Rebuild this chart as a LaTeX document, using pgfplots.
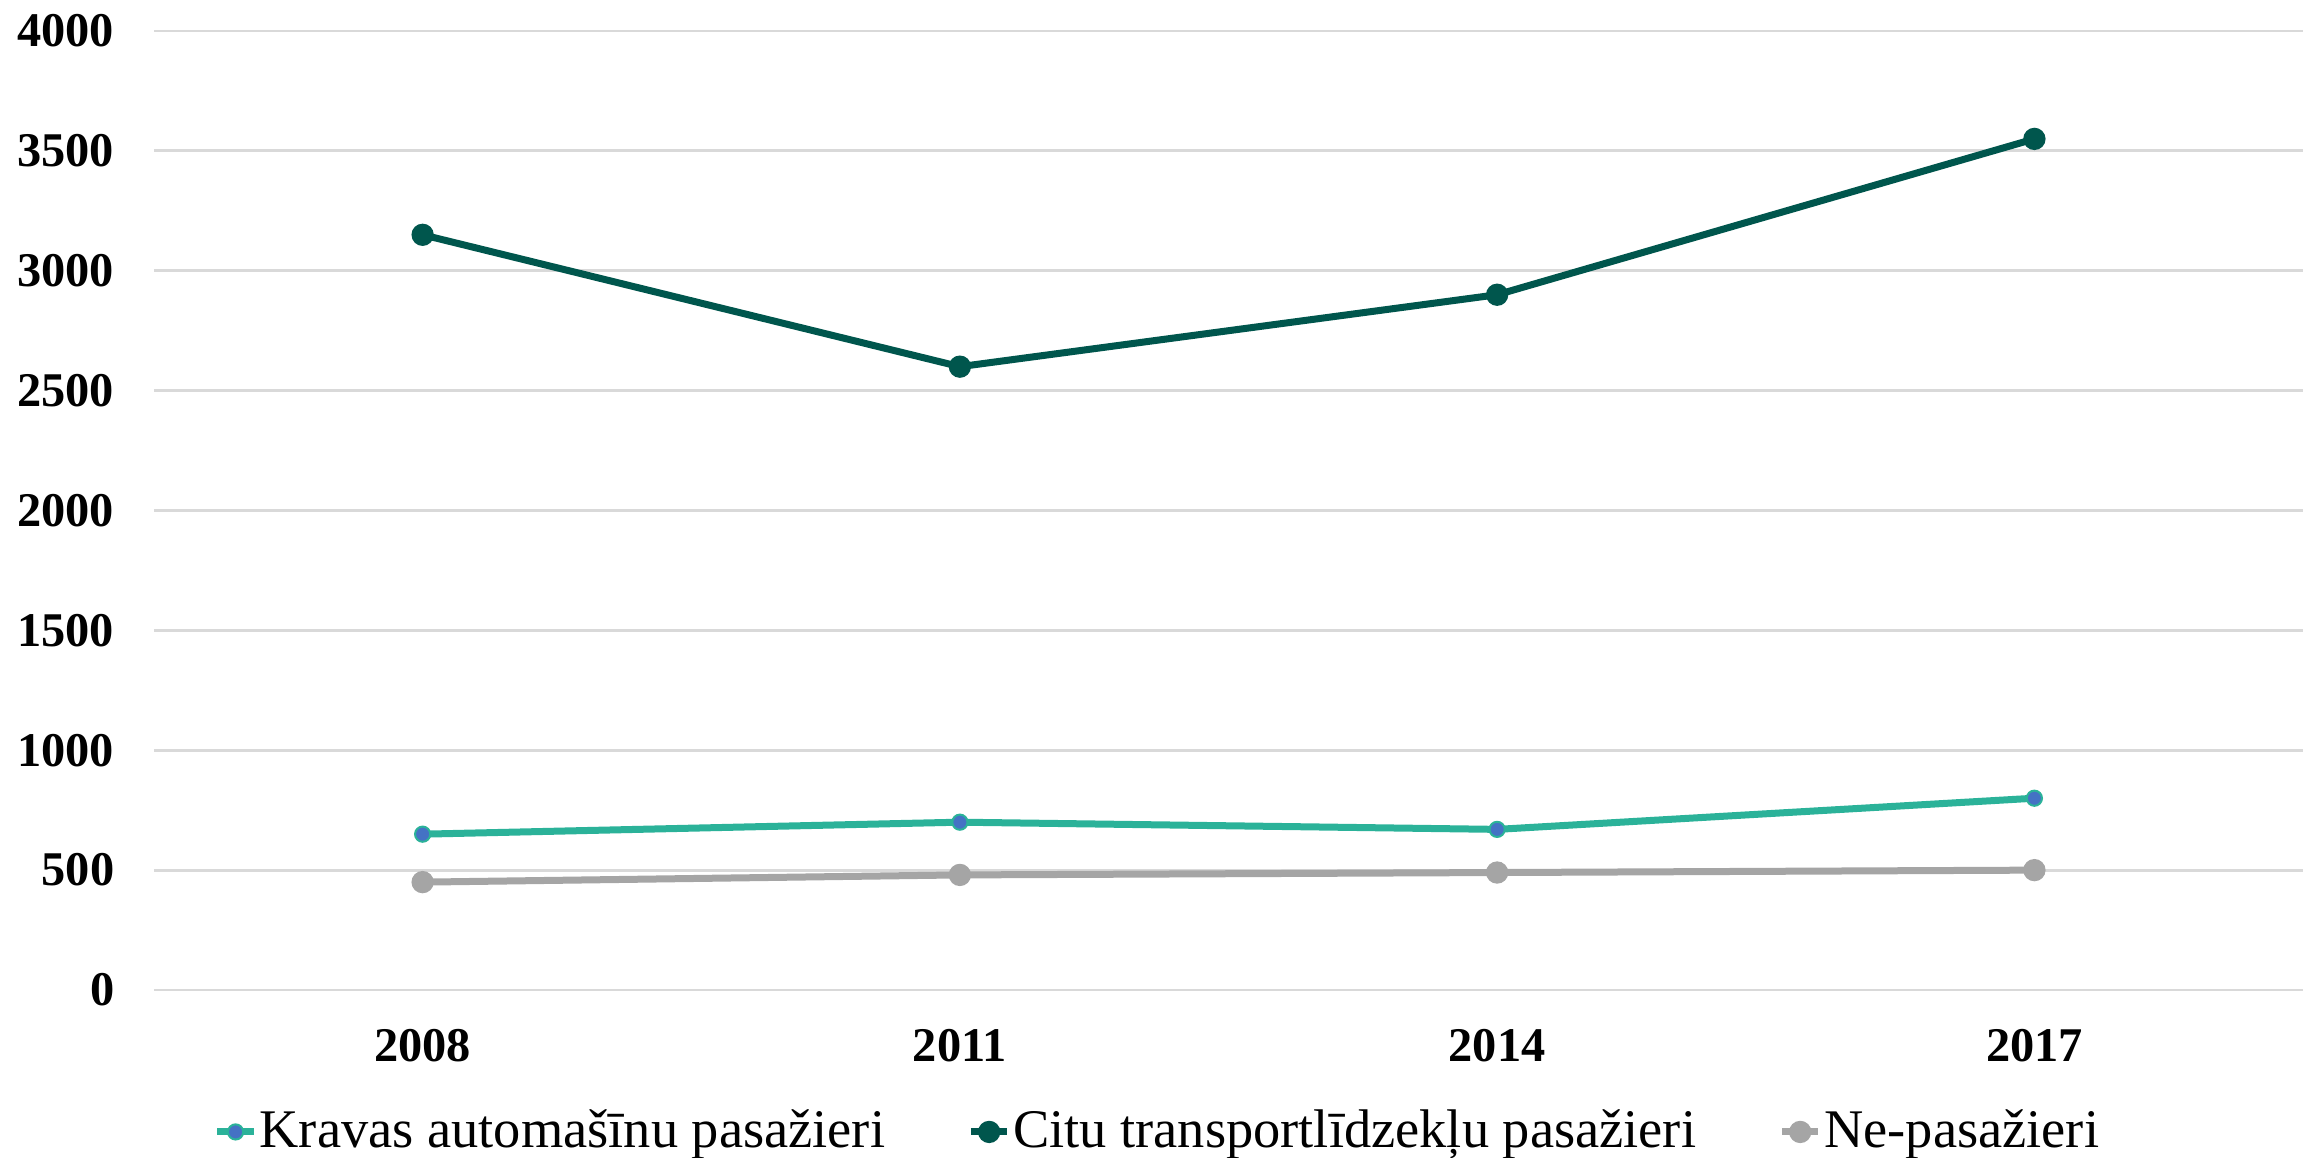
\documentclass[border=0pt]{standalone}
\usepackage{fontspec}
\setmainfont{Liberation Serif}
\usepackage{pgfplots}
\pgfplotsset{compat=1.18}
\definecolor{cTeal}{HTML}{2BB299}
\definecolor{cBlue}{HTML}{4472C4}
\definecolor{cDark}{HTML}{00564D}
\definecolor{cGray}{HTML}{A5A5A5}
\definecolor{cGrid}{HTML}{D9D9D9}
\begin{document}
\begin{tikzpicture}
\path[use as bounding box] (-38.5pt,-41.75pt) rectangle (541pt,247.5pt);
\begin{axis}[
  at={(0,0)}, anchor=south west,
  scale only axis,
  width=537.25pt, height=239.75pt,
  xmin=-0.5, xmax=3.5,
  ymin=0, ymax=4000,
  xtick={0,1,2,3},
  xticklabels={2008,2011,2014,2017},
  ytick={0,500,1000,1500,2000,2500,3000,3500,4000},
  /pgf/number format/assume math mode=true,
  /pgf/number format/set thousands separator={},
  axis line style={draw=none},
  tick style={draw=none},
  ymajorgrids,
  major grid style={color=cGrid, line width=0.7pt},
  ticklabel style={font=\bfseries\fontsize{12.1}{14}\selectfont},
  xticklabel style={anchor=center, inner sep=0pt, yshift=-14pt},
  yticklabel style={anchor=east, inner sep=0pt, xshift=-9.75pt},
  clip=false,
  legend columns=3,
  legend style={
    at={(axis description cs:0.0275,-0.148)}, anchor=west,
    draw=none, fill=none, inner sep=0pt,
    font=\fontsize{13.6}{16}\selectfont,
    nodes={inner sep=0.6pt},
    /tikz/every even column/.append style={column sep=20pt},
  },
  legend image code/.code={
    \draw[mark repeat=2,mark phase=2,#1] plot coordinates {(0cm,0cm) (0.16cm,0cm) (0.32cm,0cm)};
  },
]
\addplot[color=cTeal, line width=1.75pt, mark=*, mark size=1.9pt, mark options={fill=cBlue, draw=cTeal, line width=0.5pt}]
  coordinates {(0,650) (1,700) (2,670) (3,800)};
\addlegendentry{Kravas automašīnu pasažieri}
\addplot[color=cDark, line width=1.75pt, mark=*, mark size=1.9pt, mark options={fill=cDark, draw=cDark}]
  coordinates {(0,3150) (1,2600) (2,2900) (3,3550)};
\addlegendentry{Citu transportlīdzekļu pasažieri}
\addplot[color=cGray, line width=1.75pt, mark=*, mark size=1.9pt, mark options={fill=cGray, draw=cGray}]
  coordinates {(0,450) (1,480) (2,490) (3,500)};
\addlegendentry{Ne-pasažieri}
\end{axis}
\end{tikzpicture}
\end{document}
